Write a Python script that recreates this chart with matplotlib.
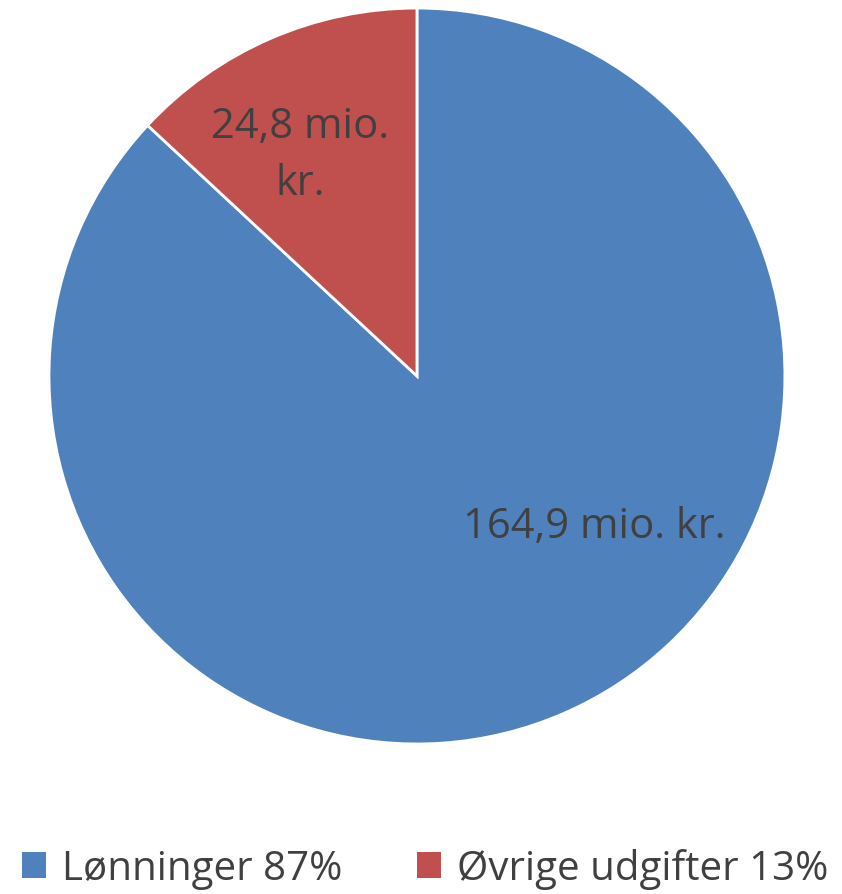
import numpy as np
import matplotlib
matplotlib.use("Agg")
import matplotlib.pyplot as plt
from matplotlib.patches import Patch

plt.rcParams['font.family'] = ['Open Sans', 'DejaVu Sans']

labels = ['Lønninger 87%', 'Øvrige udgifter 13%']
values = [164.9, 24.8]
value_texts = ['164,9 mio. kr.', '24,8 mio.\nkr.']
colors = ['#4F81BD', '#C0504D']
text_color = '#404040'

fig = plt.figure(figsize=(8.42, 8.95), dpi=100)
ax = fig.add_axes([0.0582, 0.1676, 0.874, 0.8223])

wedges, _ = ax.pie(values, colors=colors, startangle=90, counterclock=False,
                   radius=1.0, wedgeprops=dict(edgecolor='white', linewidth=2))
ax.set_xlim(-1, 1)
ax.set_ylim(-1, 1)
ax.set_aspect('equal')

# label placement (fraction of radius, angle in degrees)
label_pos = [(0.63, -40.3), (0.68, 117.8)]
for txt, (r, a) in zip(value_texts, label_pos):
    ax.text(r * np.cos(np.radians(a)), r * np.sin(np.radians(a)), txt,
            ha='center', va='center', fontsize=30, color=text_color,
            linespacing=1.45)

handles = [Patch(facecolor=c, edgecolor='none') for c in colors]
fig.legend(handles, labels, loc='center', bbox_to_anchor=(0.505, 0.028),
           ncol=2, frameon=False, fontsize=29, labelcolor=text_color,
           handlelength=0.6, handleheight=0.6, handletextpad=0.4,
           columnspacing=1.85)

fig.savefig('out.png', dpi=100)
